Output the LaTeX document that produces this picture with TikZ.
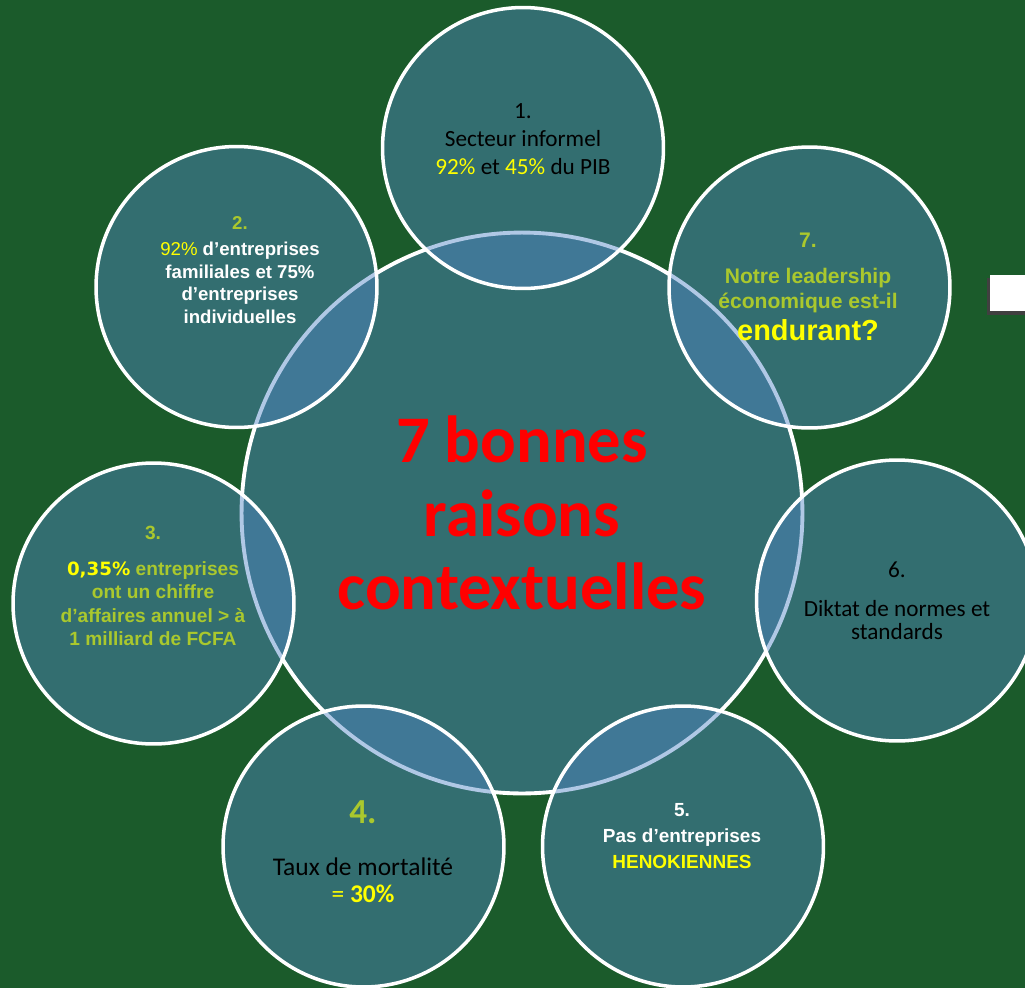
\documentclass[tikz,border=0pt]{standalone}
\usepackage{fontspec}
\setmainfont{Carlito}
\newfontfamily\arialfont{Liberation Sans}
\newfontfamily\verdfont{DejaVu Sans}
\usetikzlibrary{positioning}
\definecolor{bggreen}{RGB}{27,91,43}
\definecolor{tealfill}{RGB}{51,110,112}
\definecolor{tintblue}{RGB}{82,134,198}
\definecolor{lime}{RGB}{170,200,45}
\definecolor{yell}{RGB}{255,255,0}
\newcommand{\yl}[1]{\textcolor{yell}{#1}}
\tikzset{hub/.style={circle,draw=white,line width=2.2pt,fill=tealfill,minimum size=11.22cm,inner sep=0pt,align=center}}
\tikzset{petal/.style={circle,draw=white,line width=2pt,fill=tintblue,fill opacity=0.45,minimum size=5.62cm,inner sep=0pt}}
\tikzset{txt/.style={align=center,inner sep=0pt}}

\begin{document}
\begin{tikzpicture}[x=0.02cm,y=-0.02cm]
\fill[bggreen] (0,0) rectangle (1025,988);
\useasboundingbox (0,0) rectangle (1025,988);

\node[hub,font={\fontsize{37.9}{42}\selectfont\bfseries},text=red] (hub) at (522,513)
  {7 bonnes\\raisons\\contextuelles};

\node[petal] (p1) at (523,148) {};
\node[petal] (p2) at (236.5,287) {};
\node[petal] (p3) at (153.5,603.5) {};
\node[petal] (p4) at (363.5,846.5) {};
\node[petal] (p5) at (683,846.5) {};
\node[petal] (p6) at (897,600.5) {};
\node[petal] (p7) at (809.5,287.5) {};

\node[txt,font={\fontsize{13.2}{16}\selectfont}] (t1) at (523,139)
  {1.\\Secteur informel\\\yl{92\%} et \yl{45\%} du PIB};
\node[txt,font={\arialfont\bfseries\fontsize{10.6}{12.8}\selectfont},text=white] (t2) at (240,270)
  {\textcolor{lime}{2.}\\[2pt]\yl{\mdseries 92\%} d’entreprises\\familiales et 75\%\\d’entreprises\\individuelles};
\node[txt,font={\arialfont\bfseries\fontsize{10.9}{13.3}\selectfont},text=lime] (t3) at (153,586)
  {3.\\[7pt]\yl{\verdfont\fontsize{10.4}{13.3}\selectfont 0,35\%} entreprises\\ont un chiffre\\d’affaires annuel > à\\1 milliard de FCFA};
\node[txt,font={\fontsize{14.5}{15.5}\selectfont}] (t4) at (363,852)
  {\textcolor{lime}{\bfseries\fontsize{20}{22}\selectfont 4.}\\[14pt]Taux de mortalité\\\yl{= \textbf{30\%}}};
\node[txt,font={\arialfont\bfseries\fontsize{10.8}{15}\selectfont},text=white] (t5) at (682,836)
  {5.\\Pas d’entreprises\\\yl{HENOKIENNES}};
\node[txt,font={\fontsize{13.2}{13.2}\selectfont}] (t6) at (897,601)
  {6.\\[9pt]Diktat de normes et\\standards};
\node[txt,font={\arialfont\bfseries\fontsize{12}{14.2}\selectfont},text=lime] (t7) at (808,287)
  {7.\\[6pt]Notre leadership\\économique est-il\\[3pt]\yl{\fontsize{16.5}{17}\selectfont endurant?}};

\fill[black!75] (987,278) rectangle (1025,315);
\fill[white] (990,275) rectangle (1025,311);
\end{tikzpicture}
\end{document}
